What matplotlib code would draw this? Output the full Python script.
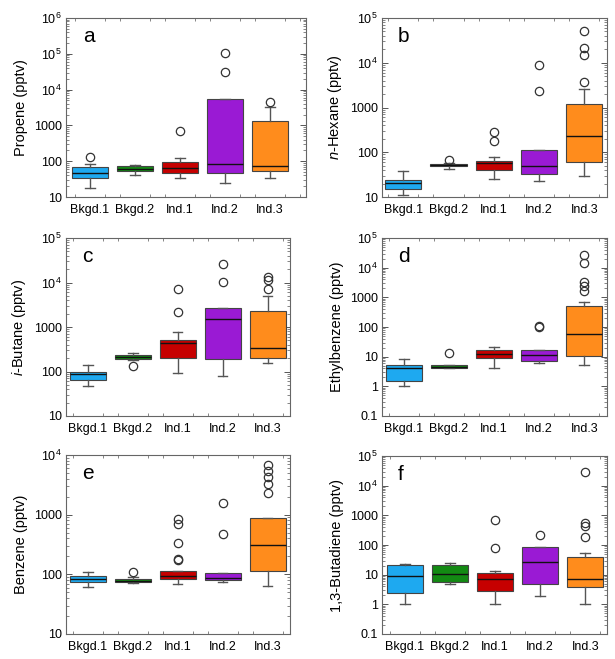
import matplotlib
matplotlib.use('Agg')
import matplotlib.pyplot as plt
import numpy as np
from matplotlib.ticker import FixedLocator, MultipleLocator, FuncFormatter, NullFormatter

plt.rcParams['font.family'] = ['Liberation Sans', 'DejaVu Sans']
plt.rcParams['mathtext.fontset'] = 'custom'
plt.rcParams['mathtext.rm'] = 'Liberation Sans'
plt.rcParams['mathtext.it'] = 'Liberation Sans:italic'

groups = ['Bkgd.1', 'Bkgd.2', 'Ind.1', 'Ind.2', 'Ind.3']
colors = ['#1ea9f0', '#138a13', '#c60000', '#9a1ad4', '#ff8c1c']

# per compound: (whislo, q1, med, q3, whishi, fliers) for each group
propene = [
    (18, 33, 47, 69, 81, [132]),
    (42, 54, 62, 74, 79, []),
    (33, 48, 66, 96, 124, [690]),
    (25, 47, 81, 5470, 5470, [105000, 32000]),
    (33, 54, 74, 1350, 3200, [4600]),
]
hexane = [
    (10.9, 15.4, 20.3, 24.5, 37.6, []),
    (41.7, 49.6, 52.5, 56, 58, [66]),
    (25.8, 41, 57, 65, 80, [277, 177]),
    (23, 33, 50, 115, 115, [8700, 2350]),
    (30, 62, 225, 1180, 2650, [52000, 21200, 15000, 3800]),
]
butane = [
    (48, 65, 86, 99, 141, []),
    (177, 190, 214, 230, 255, [130]),
    (92, 197, 434, 507, 792, [7060, 2190]),
    (79, 193, 1550, 2740, 2740, [26500, 10500]),
    (152, 203, 330, 2300, 5090, [13100, 11600, 7060]),
]
ethylbenzene = [
    (1.0, 1.5, 4.1, 5.07, 8.06, []),
    (4.0, 4.0, 4.6, 5.2, 5.2, [13.5]),
    (4.2, 9.2, 12.5, 16.6, 21, []),
    (6.2, 7.3, 11.6, 16.6, 16.6, [104, 98]),
    (5.2, 10.2, 57, 505, 703, [26000, 14400, 3300, 2350, 1600]),
]
benzene = [
    (60.5, 74.5, 84.6, 95, 111, []),
    (71.6, 73.5, 78, 84.6, 90, [111]),
    (68, 84.6, 92.5, 115, 115, [835, 698, 330, 183, 174]),
    (74.5, 79, 85.7, 104, 104, [1590, 474]),
    (64, 112, 306, 890, 890, [6800, 5460, 4230, 3220, 2280]),
]
butadiene = [
    (1.0, 2.35, 8.8, 20.6, 23, []),
    (5.0, 5.66, 10.3, 20.6, 25.4, []),
    (1.0, 2.81, 7.1, 11.7, 13.6, [697, 77]),
    (1.9, 4.85, 26.7, 83, 87, [217]),
    (1.0, 3.84, 7.3, 40.4, 52, [28000, 566, 449, 190]),
]

panels = [
    ('a', 'Propene (pptv)', propene, (1, 6), (66, 306, 18, 197), (0.47, 5.8)),
    ('b', r'$\it{n}$-Hexane (pptv)', hexane, (1, 5), (382, 607, 18, 197), (0.53, 5.5)),
    ('c', r'$\it{i}$-Butane (pptv)', butane, (1, 5), (66, 290, 238, 416), (0.52, 5.5)),
    ('d', 'Ethylbenzene (pptv)', ethylbenzene, (-1, 5), (382, 607, 238, 416), (0.52, 5.5)),
    ('e', 'Benzene (pptv)', benzene, (1, 4), (66, 290, 455, 634), (0.52, 5.5)),
    ('f', '1,3-Butadiene (pptv)', butadiene, (-1, 5), (382, 607, 456, 634), (0.5, 5.48)),
]

W, H = 615, 659
fig = plt.figure(figsize=(W / 100, H / 100), dpi=100)


def fmt(v, pos):
    if v >= 1e4:
        return r'10$^{\mathregular{%d}}$' % round(np.log10(v))
    if v < 1:
        return '%g' % v
    return '%d' % round(v)


for letter, ylabel, data, (e0, e1), (l, r, t, b), xlim in panels:
    ax = fig.add_axes([l / W, 1 - b / H, (r - l) / W, (b - t) / H])
    stats = [dict(whislo=lo, q1=q1, med=med, q3=q3, whishi=hi, fliers=fl)
             for (lo, q1, med, q3, hi, fl) in data]
    art = ax.bxp(stats, positions=range(1, 6), widths=0.8, patch_artist=True,
                 capwidths=0.22,
                 boxprops=dict(edgecolor='#444444', linewidth=0.8),
                 medianprops=dict(color='#111111', linewidth=1.0),
                 whiskerprops=dict(color='#555555', linewidth=1.0),
                 capprops=dict(color='#555555', linewidth=1.0),
                 flierprops=dict(marker='o', markersize=6, markerfacecolor='none',
                                 markeredgecolor='#333333', markeredgewidth=0.9))
    for patch, c in zip(art['boxes'], colors):
        patch.set_facecolor(c)
    ax.set_yscale('log')
    ax.set_ylim(10.0 ** e0, 10.0 ** e1)
    ax.set_xlim(*xlim)
    decades = [10.0 ** k for k in range(e0, e1 + 1)]
    minors = [m * 10.0 ** k for k in range(e0, e1) for m in range(2, 10)]
    ax.yaxis.set_major_locator(FixedLocator(decades))
    ax.yaxis.set_minor_locator(FixedLocator(minors))
    ax.yaxis.set_major_formatter(FuncFormatter(fmt))
    ax.yaxis.set_minor_formatter(NullFormatter())
    ax.set_xticks(range(1, 6))
    ax.set_xticklabels(groups)
    ax.xaxis.set_minor_locator(MultipleLocator(1 / 3))
    ax.tick_params(axis='both', which='both', direction='in', top=True, right=True,
                   color='#555555', labelsize=9)
    ax.tick_params(axis='y', which='major', length=4, width=0.7, pad=3)
    ax.tick_params(axis='y', which='minor', length=2, width=0.5)
    ax.tick_params(axis='x', which='major', length=0, pad=5)
    ax.tick_params(axis='x', which='minor', length=2, width=0.5)
    for s in ax.spines.values():
        s.set_color('#666666')
        s.set_linewidth(0.8)
    ax.set_ylabel(ylabel, fontsize=10.5, labelpad=4)
    ax.text(0.07, 0.95, letter, transform=ax.transAxes, fontsize=15, va='top', ha='left')

fig.savefig('out.png', dpi=100)
